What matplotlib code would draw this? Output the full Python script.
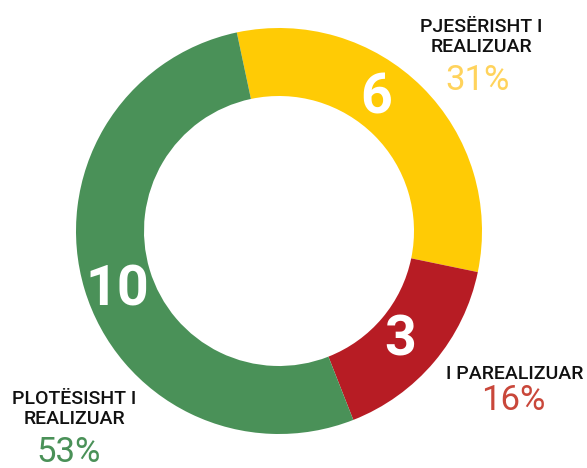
import matplotlib.pyplot as plt

# data
categories = ['PJESËRISHT I\nREALIZUAR', 'I PAREALIZUAR', 'PLOTËSISHT I\nREALIZUAR']
counts = [6, 3, 10]
colors = ['#FFCB05', '#B71C24', '#4A9158']
pct_colors = ['#FFD35C', '#C9473A', '#4A9158']

W, H = 587, 468
plt.rcParams['font.family'] = ['Roboto', 'DejaVu Sans']

fig = plt.figure(figsize=(W / 100, H / 100), dpi=100)
ax = fig.add_axes([0, 0, 1, 1])

# donut in pixel-like units (y measured from bottom)
cx, cy, r_out, ring = 279, H - 231, 203, 68
wedges, _ = ax.pie(counts, colors=colors, startangle=102, counterclock=False,
                   center=(cx, cy), radius=r_out,
                   wedgeprops=dict(width=ring, linewidth=0))
ax.set_xlim(0, W)
ax.set_ylim(0, H)
ax.set_aspect('equal')
ax.axis('off')

# percentages rounded so they add up to 100 (largest remainder)
total = sum(counts)
raw = [100 * c / total for c in counts]
pcts = [int(v) for v in raw]
order = sorted(range(len(raw)), key=lambda i: raw[i] - pcts[i], reverse=True)
for i in order[:100 - sum(pcts)]:
    pcts[i] += 1

# numbers on the ring
num_pos = [(376, 98), (400, 341), (117, 290)]
for (px, py), c in zip(num_pos, counts):
    ax.text(px, H - py, str(c), color='white', fontsize=40, fontweight='bold',
            ha='center', va='center')

# outside labels
lab_pos = [(481, 37), (515, 374), (74, 409)]
pct_pos = [(478, 81), (513, 401), (69, 453)]
for i in range(len(counts)):
    ax.text(lab_pos[i][0], H - lab_pos[i][1], categories[i], color='#111111',
            fontsize=14, fontweight='medium', ha='center', va='center',
            linespacing=1.2)
    ax.text(pct_pos[i][0], H - pct_pos[i][1], f'{pcts[i]}%', color=pct_colors[i],
            fontsize=25, ha='center', va='center')

plt.savefig('out.png', dpi=100)
